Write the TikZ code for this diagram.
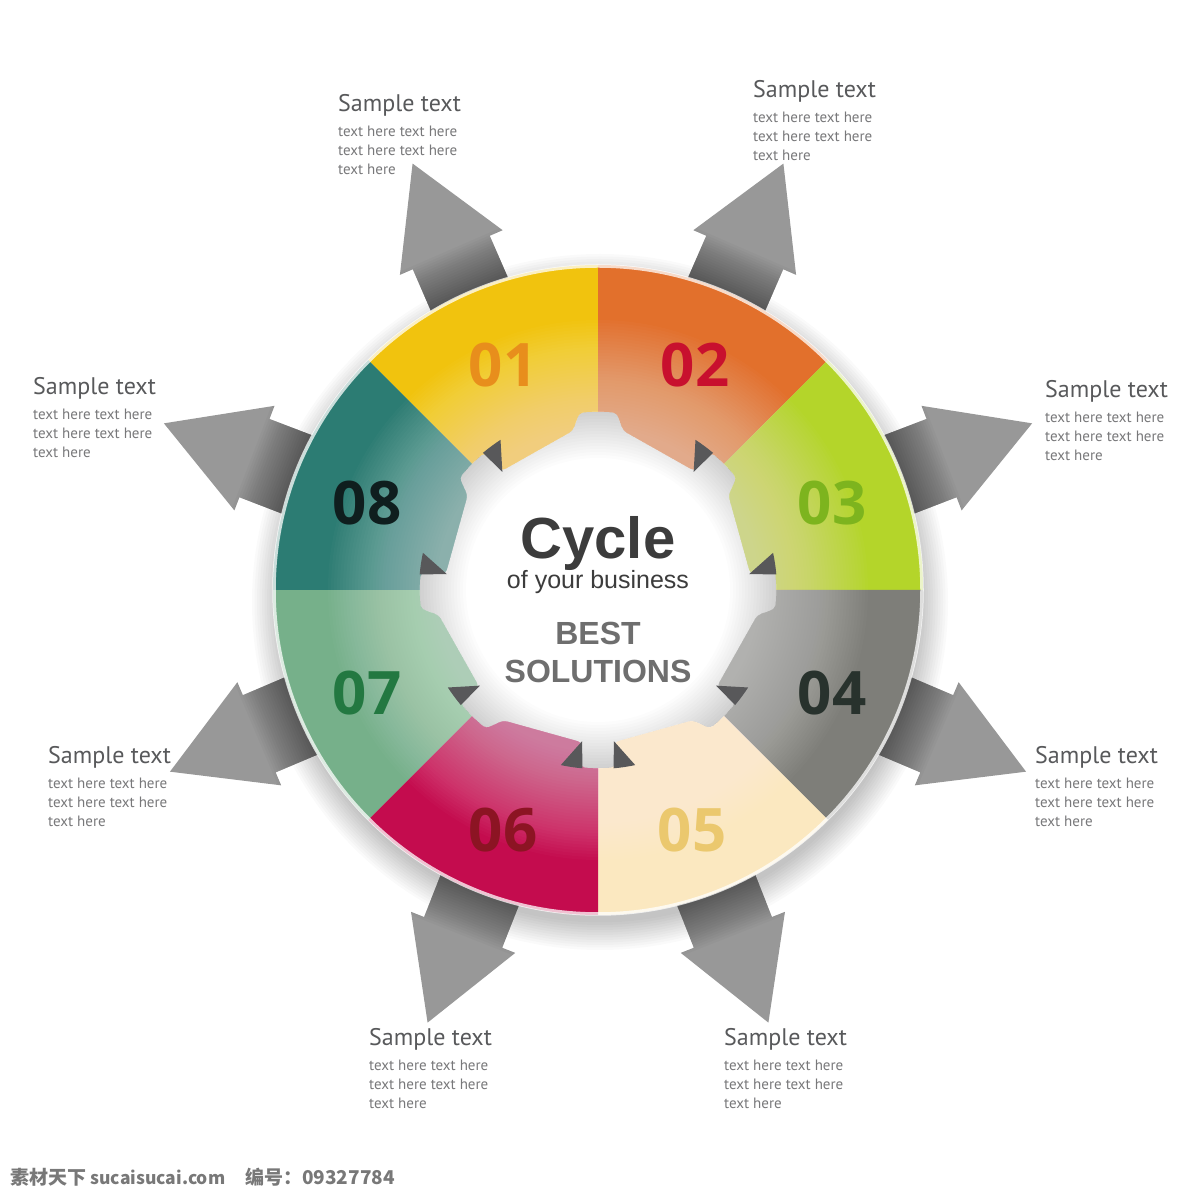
\documentclass[tikz,border=0pt]{standalone}
\usepackage{fontspec}
\setmainfont{Liberation Sans}
\newfontfamily\ptsans{PT Sans}
\newfontfamily\numfont{Open Sans}
\newfontfamily\cjk{Noto Sans CJK SC}
\definecolor{c01}{RGB}{241,195,14}
\definecolor{c02}{RGB}{226,112,44}
\definecolor{c03}{RGB}{180,213,42}
\definecolor{c04}{RGB}{126,126,121}
\definecolor{c05}{RGB}{251,232,192}
\definecolor{c06}{RGB}{196,12,78}
\definecolor{c07}{RGB}{118,176,138}
\definecolor{c08}{RGB}{44,124,115}
\definecolor{n01}{RGB}{232,142,28}
\definecolor{n02}{RGB}{200,16,46}
\definecolor{n03}{RGB}{125,180,30}
\definecolor{n04}{RGB}{40,50,45}
\definecolor{n05}{RGB}{235,200,110}
\definecolor{n06}{RGB}{140,20,35}
\definecolor{n07}{RGB}{35,120,65}
\definecolor{n08}{RGB}{15,30,30}
\definecolor{arrowgray}{RGB}{152,152,152}
\definecolor{titlegray}{RGB}{88,89,91}
\definecolor{bodygray}{RGB}{120,120,122}
\definecolor{cycgray}{RGB}{60,60,60}
\definecolor{bestgray}{RGB}{110,110,110}
\definecolor{wmgray}{RGB}{120,120,120}
\definecolor{wedgegray}{RGB}{88,88,90}
\def\arrowpath{(300,-42) -- (368,-42) -- (368,-56) -- (465,0) -- (368,56) -- (368,42) -- (300,42) -- cycle}
\def\holepath{[rounded corners=4pt] (5.5:178) -- (6:153) -- (36:161) -- (39:178) arc[start angle=39,end angle=50.5,radius=178] -- (51:153) -- (81:161) -- (84:178) arc[start angle=84,end angle=96,radius=178] -- (99:161) -- (129:153) -- (129.5:178) arc[start angle=129.5,end angle=141,radius=178] -- (144:161) -- (174:153) -- (174.5:178) arc[start angle=174.5,end angle=186,radius=178] -- (189:161) -- (219:153) -- (219.5:178) arc[start angle=219.5,end angle=231,radius=178] -- (234:161) -- (264:153) -- (264.5:178) arc[start angle=264.5,end angle=275.5,radius=178] -- (276:153) -- (306:161) -- (309:178) arc[start angle=309,end angle=320.5,radius=178] -- (321:153) -- (351:161) -- (354:178) arc[start angle=354,end angle=365.5,radius=178] -- cycle}
\newcommand{\samplelabel}[3]{%
  \node[ttl] (#1-t) at (#2,#3) {Sample text};
  \node[bdy] (#1-a) at (#2,#3-25) {text here text here};
  \node[bdy] (#1-b) at (#2,#3-44) {text here text here};
  \node[bdy] (#1-c) at (#2,#3-63) {text here};
}
\begin{document}
\begin{tikzpicture}[x=1pt,y=1pt,
  ttl/.style={anchor=base west, inner sep=0pt, text=titlegray, font=\ptsans\fontsize{24}{24}\selectfont},
  bdy/.style={anchor=base west, inner sep=0pt, text=bodygray, font=\ptsans\fontsize{15}{15}\selectfont},
  numstyle/.style={inner sep=0pt, font=\numfont\bfseries\fontsize{60}{60}\selectfont},
  ctr/.style={anchor=base, inner sep=0pt}]
\useasboundingbox (0,0) rectangle (1200,1200);
\fill[white] (0,0) rectangle (1200,1200);
% soft shadow of the ring
\begin{scope}[shift={(600,598)}]
  \foreach \i in {1,...,12} \fill[black, fill opacity=0.02] (0,0) circle[radius={318+\i*2.5}];
\end{scope}
% arrows
\begin{scope}[shift={(598,610)}]
  \foreach \a in {113.5,66.5,21,-23,-68.5,-111.5,203,159}{
    \begin{scope}[rotate=\a]
      \fill[arrowgray] \arrowpath;
      \begin{scope}
        \clip \arrowpath;
        \foreach \k in {1,...,22} \fill[black, fill opacity=0.025] (300,-60) rectangle ({316+\k*2.5},60);
      \end{scope}
    \end{scope}
  }
\end{scope}
% ring
\begin{scope}[shift={(598,610)}]
  \foreach \s/\c in {90/c01,45/c02,0/c03,-45/c04,-90/c05,-135/c06,180/c07,135/c08}
    \fill[\c] (0,0) -- (\s:325) arc[start angle=\s, end angle=\s+45, radius=325] -- cycle;
  \foreach \r in {162,165,...,270} \fill[white, fill opacity=0.02] (0,0) circle[radius=\r];
  \draw[white, line width=3.5pt, opacity=0.75] (0,0) circle[radius=324];
  \fill[white] \holepath;
  \begin{scope}
    \clip \holepath;
    \foreach \r in {177,174,...,130} \fill[black, fill opacity=0.012, even odd rule] (0,0) circle[radius=200] (0,0) circle[radius=\r];
  \end{scope}
  % curled notches
  \foreach \b in {0,45,270,315}
    \fill[wedgegray] (\b+6:152) -- (\b+12:179) arc[start angle=\b+12, end angle=\b+5, radius=179] -- cycle;
  \foreach \b in {135,180,225,270}
    \fill[wedgegray] (\b-6:152) -- (\b-12:179) arc[start angle=\b-12, end angle=\b-5, radius=179] -- cycle;
\end{scope}
% numbers
\node[numstyle, text=n01] (num01) at (503,835) {01};
\node[numstyle, text=n02] (num02) at (695,835) {02};
\node[numstyle, text=n03] (num03) at (832,697) {03};
\node[numstyle, text=n04] (num04) at (832,507) {04};
\node[numstyle, text=n05] (num05) at (692,370) {05};
\node[numstyle, text=n06] (num06) at (503,370) {06};
\node[numstyle, text=n07] (num07) at (367,507) {07};
\node[numstyle, text=n08] (num08) at (367,697) {08};
% centre texts
\node[ctr, text=cycgray, font=\bfseries\fontsize{58}{58}\selectfont] (cyc) at (598,641) {Cycle};
\node[ctr, text=cycgray, font=\fontsize{25}{25}\selectfont] (biz) at (598,611) {of your business};
\node[ctr, text=bestgray, font=\bfseries\fontsize{32}{32}\selectfont] (best) at (598,555) {BEST};
\node[ctr, text=bestgray, font=\bfseries\fontsize{32}{32}\selectfont] (sol) at (598,517) {SOLUTIONS};
% labels
\samplelabel{L1}{338}{1088}
\samplelabel{L2}{753}{1102}
\samplelabel{L3}{1045}{802}
\samplelabel{L8}{33}{805}
\samplelabel{L7}{48}{436}
\samplelabel{L4}{1035}{436}
\samplelabel{L6}{369}{154}
\samplelabel{L5}{724}{154}
% watermark
\node[anchor=base west, inner sep=0pt, text=wmgray, font=\cjk\bfseries\fontsize{19}{19}\selectfont] (wm) at (10,16) {素材天下 {\fontsize{17.5}{17.5}\selectfont sucaisucai.com}\hspace{20pt}编号：09327784};
\end{tikzpicture}
\end{document}
